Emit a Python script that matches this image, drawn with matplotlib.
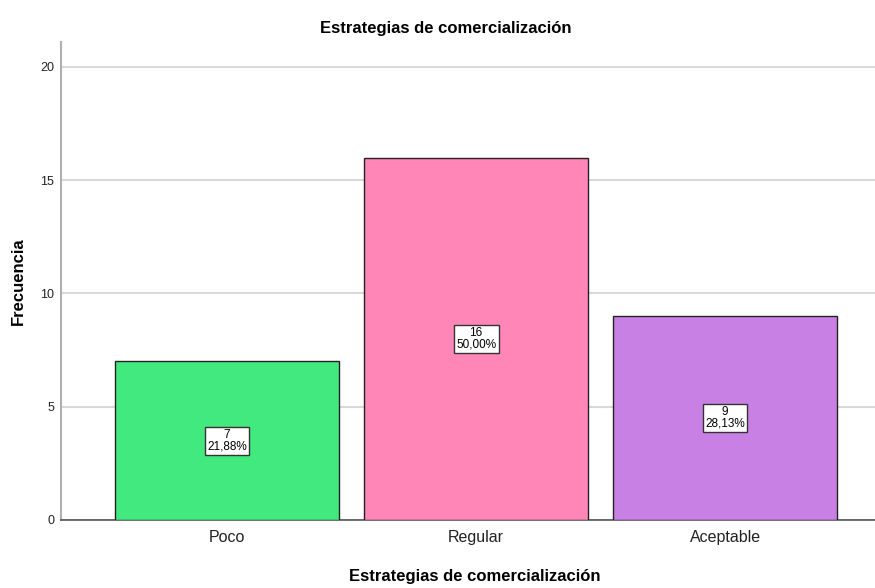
import matplotlib
matplotlib.use("Agg")
import matplotlib.pyplot as plt

categories = ["Poco", "Regular", "Aceptable"]
counts = [7, 16, 9]
percents = ["21,88%", "50,00%", "28,13%"]
colors = ["#42E97E", "#FF86B6", "#C980E4"]
yticks = [0, 5, 10, 15, 20]

plt.rcParams['font.family'] = ['Liberation Sans', 'DejaVu Sans']

W, H = 875, 588
fig = plt.figure(figsize=(8.75, 5.88), dpi=100)
ax = fig.add_axes([61/W, 68/H, (W-61)/W, (520-42)/H])

x = list(range(len(categories)))
ax.bar(x, counts, width=0.9, color=colors, edgecolor="#222222", linewidth=1, zorder=3)

for xi, c, p in zip(x, counts, percents):
    ax.text(xi, c / 2, f"{c}\n{p}", ha="center", va="center", fontsize=8.5, linespacing=0.95,
            bbox=dict(boxstyle="square,pad=0.2", facecolor="white", edgecolor="#333333", linewidth=1),
            zorder=4)

ax.set_xlim(-0.667, 2.602)
ax.set_ylim(0, 21.1)
ax.set_yticks(yticks)
ax.set_yticklabels([str(v) for v in yticks], fontsize=9, color="#222222")
ax.set_xticks(x)
ax.set_xticklabels(categories, fontsize=11.5, color="#222222")
ax.tick_params(axis="x", length=0, pad=7)
ax.tick_params(axis="y", length=0, pad=5)
ax.yaxis.grid(True, color="#d9d9d9", linewidth=1.5, zorder=0)
ax.set_axisbelow(True)

for s in ["top", "right"]:
    ax.spines[s].set_visible(False)
ax.spines["left"].set_color("#b0b0b0")
ax.spines["left"].set_linewidth(1.5)
ax.spines["bottom"].set_color("#555555")
ax.spines["bottom"].set_linewidth(1.2)

fig.text(446/W, 1 - 29/H, "Estrategias de comercialización", fontsize=12, fontweight="bold",
         ha="center", va="center")
fig.text(475/W, 1 - 576/H, "Estrategias de comercialización", fontsize=12, fontweight="bold",
         ha="center", va="center")
fig.text(18/W, 1 - 281/H, "Frecuencia", fontsize=12, fontweight="bold",
         ha="center", va="center", rotation=90)

fig.savefig("out.png", dpi=100)
